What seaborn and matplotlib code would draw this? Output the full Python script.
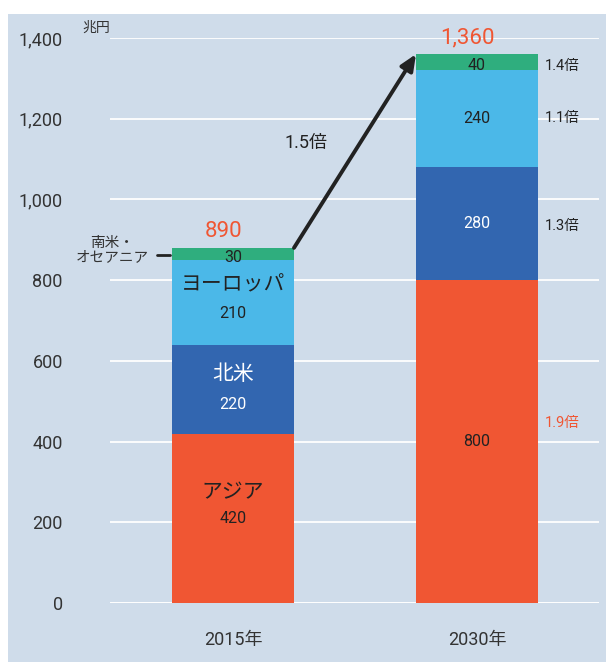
import matplotlib
matplotlib.use("Agg")
import matplotlib.pyplot as plt
import seaborn as sns
import pandas as pd
from matplotlib.patches import Rectangle

years = ["2015年", "2030年"]
regions = ["アジア", "北米", "ヨーロッパ", "南米・オセアニア"]
asia = [420, 800]
north_america = [220, 280]
europe = [210, 240]
south_oceania = [30, 40]
totals = ["890", "1,360"]
growth = ["1.9倍", "1.3倍", "1.1倍", "1.4倍"]
overall_growth = "1.5倍"
colors = ["#f05633", "#3266b0", "#4bb8e8", "#2fae7e"]
bg = "#cfdcea"

sns.set_theme(style="white")
plt.rcParams['font.family'] = ['Roboto', 'Noto Sans CJK JP', 'DejaVu Sans']

df = pd.DataFrame({"year": years, "アジア": asia, "北米": north_america,
                   "ヨーロッパ": europe, "南米・オセアニア": south_oceania})
cum = df[regions].cumsum(axis=1)
cum["year"] = df["year"]

fig = plt.figure(figsize=(6.06, 6.63), dpi=100)
fig.patch.set_facecolor("white")
fig.patches.append(Rectangle((8 / 606, 1 / 663), 1 - 8 / 606, (662 - 14) / 663,
                             transform=fig.transFigure, facecolor=bg,
                             edgecolor="none", zorder=-10))
ax = fig.add_axes([110 / 606, 60 / 663, 489 / 606, 565 / 663])
ax.set_facecolor("none")

# draw from the top layer down so each bar covers the one behind
for reg, col in reversed(list(zip(regions, colors))):
    sns.barplot(data=cum, x="year", y=reg, order=years, color=col,
                width=0.5, saturation=1, edgecolor="none", ax=ax, zorder=3)

ax.set_ylim(0, 1400)
ax.set_xlim(-0.504, 1.5)
ax.set_yticks(range(0, 1401, 200))
ax.set_yticklabels([f"{v:,}" for v in range(0, 1401, 200)], fontsize=13, color="#333333")
ax.yaxis.grid(True, color="white", lw=1.3, zorder=1)
ax.set_axisbelow(True)
for s in ax.spines.values():
    s.set_visible(False)
ax.tick_params(axis="y", length=0, pad=34)
ax.tick_params(axis="x", length=0, pad=20)
ax.set_xticks([0, 1])
ax.set_xticklabels(years, fontsize=13, color="#333333")
ax.set_xlabel("")
ax.set_ylabel("")
ax.axhline(0, color="white", lw=2, zorder=2)

ax.text(-0.56, 1425, "兆円", fontsize=10, color="#333333", ha="center", va="center")

dark = "#222222"
seg_vals = [asia, north_america, europe, south_oceania]
# offsets (data units) of the region name and value inside the 2015 bar
name_off = [62, 37, 42]
val_off = [0, -37, -27]
base = [0, 0]
for i, vals in enumerate(seg_vals):
    for j in range(2):
        mid = base[j] + vals[j] / 2
        tc = "white" if i == 1 else dark
        if j == 0 and i < 3:
            ax.text(j, mid + name_off[i], regions[i], ha="center", va="center", fontsize=15, color=tc, zorder=5)
            ax.text(j, mid + val_off[i], str(vals[j]), ha="center", va="center", fontsize=11.5, color=tc, zorder=5)
        elif i == 3:
            ax.text(j, mid - 9, str(vals[j]), ha="center", va="center", fontsize=11.5, color=dark, zorder=5)
        else:
            ax.text(j, mid, str(vals[j]), ha="center", va="center", fontsize=11.5, color=tc, zorder=5)
    base = [base[k] + vals[k] for k in range(2)]

ax.text(-0.496, base[0] - 5, "南米・\nオセアニア", ha="center", va="center",
        fontsize=10.5, color="#333333", linespacing=1.05, zorder=5)
ax.plot([-0.31, -0.258], [base[0] - 18, base[0] - 18], color=dark, lw=2, zorder=5,
        clip_on=False)

for j in range(2):
    ax.text(j - 0.04, base[j] + 15, totals[j], ha="center", va="bottom", fontsize=16,
            color="#f05633", zorder=5)

# growth ratios on the right of the 2030 bar
ratio_off = [46, -6, 2, -10]
base2 = 0
for i, vals in enumerate(seg_vals):
    mid = base2 + vals[1] / 2 + ratio_off[i]
    ax.text(1.279, mid, growth[i], ha="left", va="center", fontsize=10.5,
            color="#f05633" if i == 0 else dark, zorder=5)
    base2 += vals[1]

ax.annotate("", xy=(0.75, base[1]), xytext=(0.25, base[0]),
            arrowprops=dict(arrowstyle="-|>,head_length=0.8,head_width=0.35",
                            color="#222222", lw=2.8, shrinkA=0, shrinkB=0), zorder=6)
ax.text(0.3, 1140, overall_growth, ha="center", va="center", fontsize=13, color=dark)

fig.savefig("out.png", dpi=100)
